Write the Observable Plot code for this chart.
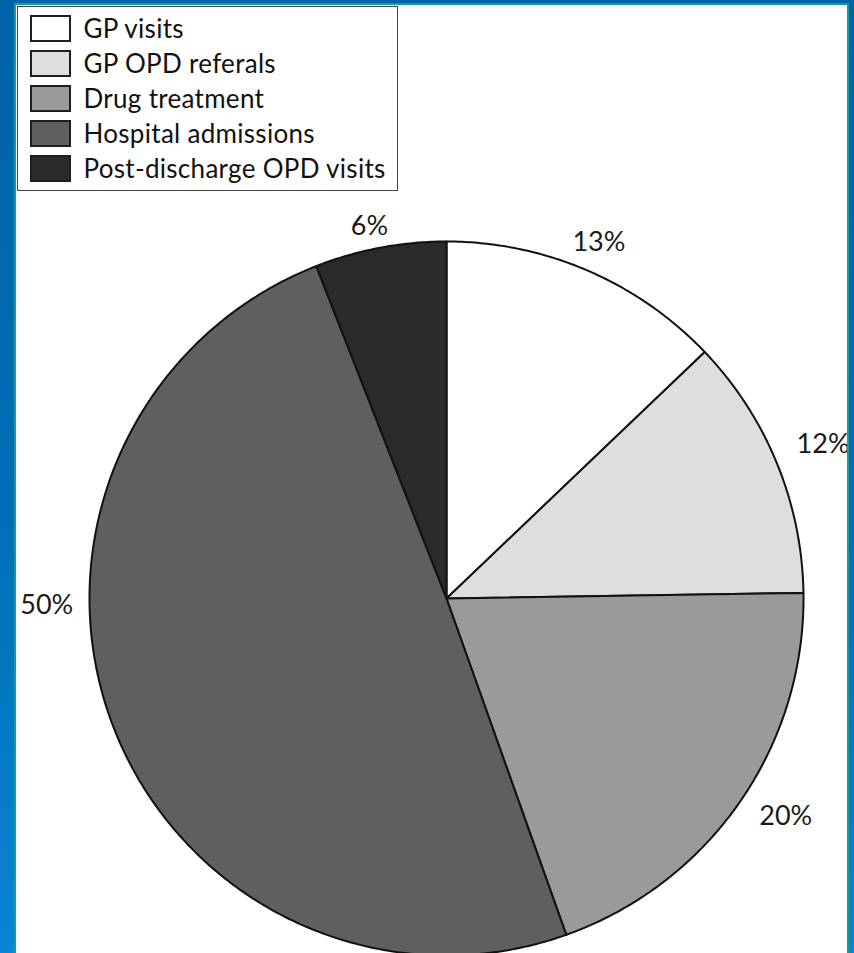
<!DOCTYPE html>
<html><head><meta charset="utf-8">
<script src="https://cdn.jsdelivr.net/npm/d3@7"></script>
<script src="https://cdn.jsdelivr.net/npm/@observablehq/plot@0.6"></script>
<style>
html,body{margin:0;padding:0;width:854px;height:953px;overflow:hidden;}
body{background:linear-gradient(180deg,#0062a9 0%,#006fb8 55%,#0a84d4 100%);position:relative;font-family:Lato,"Noto Sans",sans-serif;}
#panel{position:absolute;left:14px;top:3px;width:835px;height:975px;box-sizing:border-box;border:2px solid #129f9c;background:#fff;overflow:hidden;}
#chart{position:absolute;left:-16px;top:-5px;}
#legend{position:absolute;left:1px;top:1px;width:381px;height:185px;box-sizing:border-box;border:1.5px solid #444;background:#fff;}
.row{position:absolute;left:11.5px;height:27px;display:flex;align-items:center;}
.sw{width:41px;height:27px;box-sizing:border-box;border:2px solid #1e1e1e;flex:none;}
.lab{margin-left:13px;font-size:26px;letter-spacing:0.3px;color:#111;line-height:27px;white-space:nowrap;}
</style>
</head><body>
<div id="panel"><div id="chart"></div><div id="legend"></div></div>
<script>
const categories = ["GP visits", "GP OPD referals", "Drug treatment", "Hospital admissions", "Post-discharge OPD visits"];
const shares = [13, 12, 20, 50, 6];
const labels = ["13%", "12%", "20%", "50%", "6%"];
const fills = ["#ffffff", "#dedede", "#9a9a9a", "#5f5f5f", "#2a2a2a"];
// layout only: small angular nudges (degrees) and radii for label placement
const labelNudge = [0, 0, -2, 19.5, -1];
const labelRadius = [1.085, 1.14, 1.13, 1.12, 1.065];

const total = d3.sum(shares);
let acc = 0;
const features = [], labelData = [];
shares.forEach((v, i) => {
  const a0 = acc / total * 2 * Math.PI;
  acc += v;
  const a1 = acc / total * 2 * Math.PI;
  const n = Math.max(2, Math.ceil((a1 - a0) / (Math.PI / 360)));
  const ring = [[0, 0]];
  for (let k = 0; k <= n; k++) {
    const t = a0 + (a1 - a0) * k / n;
    ring.push([Math.sin(t), Math.cos(t)]);
  }
  ring.push([0, 0]);
  features.push({type: "Feature", properties: {name: categories[i]}, geometry: {type: "Polygon", coordinates: [ring]}});
  const m = (a0 + a1) / 2 + labelNudge[i] * Math.PI / 180;
  labelData.push({x: labelRadius[i] * Math.sin(m), y: labelRadius[i] * Math.cos(m), label: labels[i]});
});

const chart = Plot.plot({
  width: 854, height: 958,
  marginLeft: 89, marginRight: 51, marginTop: 241, marginBottom: 3,
  style: {background: "transparent", maxWidth: "none", overflow: "visible"},
  projection: {type: "reflect-y", clip: false, domain: {type: "MultiPoint", coordinates: [[-1, -1], [1, 1]]}},
  color: {domain: categories, range: fills},
  marks: [
    Plot.geo(features, {fill: d => d.properties.name, stroke: "#111", strokeWidth: 2, strokeLinejoin: "round"}),
    Plot.text(labelData, {x: "x", y: "y", text: "label", fontSize: 27, fill: "#1a1a1a", fontFamily: "Lato, 'Noto Sans', sans-serif"})
  ]
});
document.getElementById("chart").appendChild(chart);

const leg = document.getElementById("legend");
categories.forEach((c, i) => {
  const row = document.createElement("div");
  row.className = "row";
  row.style.top = (7.5 + i * 35) + "px";
  const sw = document.createElement("div");
  sw.className = "sw";
  sw.style.background = fills[i];
  const lab = document.createElement("span");
  lab.className = "lab";
  lab.textContent = c;
  row.appendChild(sw); row.appendChild(lab);
  leg.appendChild(row);
});
</script>
</body></html>
